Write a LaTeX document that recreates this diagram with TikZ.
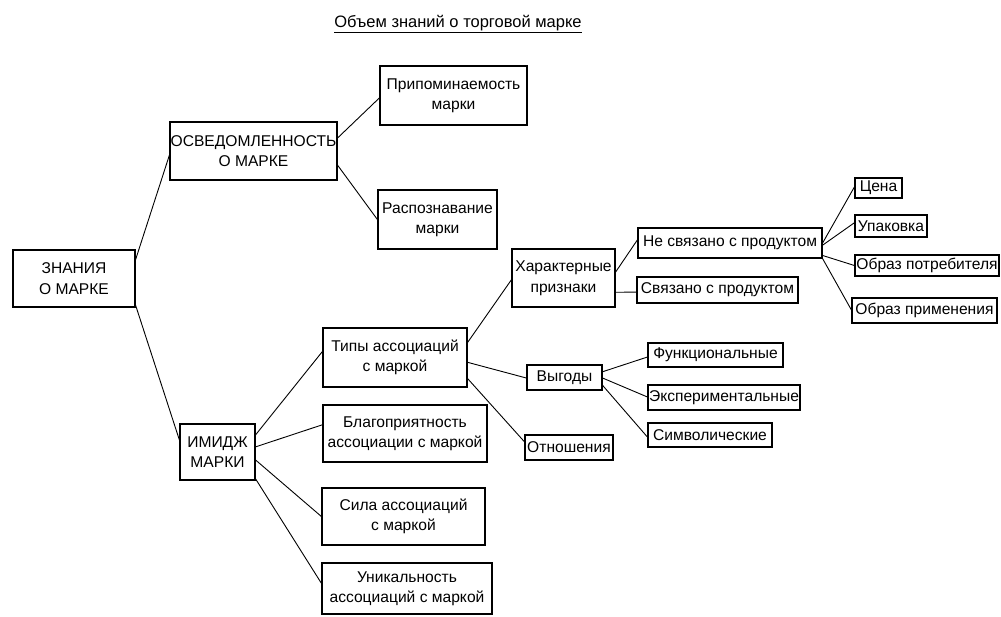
\documentclass[tikz,border=0pt]{standalone}
\usepackage{fontspec}
\setmainfont{Liberation Sans}
\usetikzlibrary{calc}
\newcommand{\Eat}[2]{($(#1.north east)!#2!(#1.south east)$)}
\newcommand{\Wat}[2]{($(#1.north west)!#2!(#1.south west)$)}
\tikzset{
  box/.style={draw, line width=1.2pt, inner sep=0pt, align=center,
    font=\fontsize{15.6}{20.5}\selectfont},
  conn/.style={draw, line width=0.9pt},
  titlestyle/.style={inner sep=0pt, font=\fontsize{16.5}{19}\selectfont}
}
\begin{document}
\begin{tikzpicture}[x=1pt, y=-1pt]
\useasboundingbox (0,0) rectangle (1001,616);
\node[titlestyle] (title) at (458,24) {\underline{Объем знаний о торговой марке}};
\node[box, minimum width=122pt, minimum height=57pt] (root) at (74,278.5) {ЗНАНИЯ\\О МАРКЕ};
\node[box, minimum width=167pt, minimum height=58pt] (osv) at (253.5,151) {ОСВЕДОМЛЕННОСТЬ\\О МАРКЕ};
\node[box, minimum width=147pt, minimum height=59pt] (prip) at (453.5,95.5) {Припоминаемость\\марки};
\node[box, minimum width=119pt, minimum height=59pt] (rasp) at (437.5,219.5) {Распознавание\\марки};
\node[box, minimum width=75pt, minimum height=56pt] (imidzh) at (217.5,452) {ИМИДЖ\\МАРКИ};
\node[box, minimum width=144pt, minimum height=59pt] (tipy) at (395,357.5) {Типы ассоциаций\\с маркой};
\node[box, minimum width=164pt, minimum height=57pt] (blag) at (405,433.5) {Благоприятность\\ассоциации с маркой};
\node[box, minimum width=163pt, minimum height=57pt] (sila) at (403.5,516.5) {Сила ассоциаций\\с маркой};
\node[box, minimum width=170pt, minimum height=51pt] (unik) at (407,588.5) {Уникальность\\ассоциаций с маркой};
\node[box, minimum width=103pt, minimum height=58pt] (har) at (563.5,278) {Характерные\\признаки};
\node[box, minimum width=75pt, minimum height=25pt] (vyg) at (564.5,377.5) {Выгоды};
\node[box, minimum width=88pt, minimum height=25pt] (otn) at (569,447.5) {Отношения};
\node[box, minimum width=184pt, minimum height=30pt] (nesv) at (730,243) {Не связано с продуктом};
\node[box, minimum width=161pt, minimum height=26pt] (sv) at (717.5,290) {Связано с продуктом};
\node[box, minimum width=47pt, minimum height=20pt] (cena) at (878.5,188) {Цена};
\node[box, minimum width=72pt, minimum height=22pt] (upak) at (891,226) {Упаковка};
\node[box, minimum width=144pt, minimum height=21pt] (obrpot) at (927,265.5) {Образ потребителя};
\node[box, minimum width=145pt, minimum height=25pt] (obrpr) at (924.5,310.5) {Образ применения};
\node[box, minimum width=135pt, minimum height=24pt] (func) at (715.5,355) {Функциональные};
\node[box, minimum width=152pt, minimum height=25pt] (eksp) at (724,397.5) {Экспериментальные};
\node[box, minimum width=124pt, minimum height=24pt] (simv) at (710,435) {Символические};
% connectors
\draw[conn] \Eat{root}{0.175} -- \Wat{osv}{0.57};
\draw[conn] \Eat{root}{0.96} -- \Wat{imidzh}{0.29};
\draw[conn] \Eat{osv}{0.28} -- \Wat{prip}{0.54};
\draw[conn] \Eat{osv}{0.74} -- \Wat{rasp}{0.5};
\draw[conn] \Eat{imidzh}{0.2} -- \Wat{tipy}{0.4};
\draw[conn] \Eat{imidzh}{0.41} -- \Wat{blag}{0.35};
\draw[conn] \Eat{imidzh}{0.64} -- \Wat{sila}{0.5};
\draw[conn] \Eat{imidzh}{0.97} -- \Wat{unik}{0.4};
\draw[conn] \Eat{tipy}{0.25} -- \Wat{har}{0.53};
\draw[conn] \Eat{tipy}{0.58} -- \Wat{vyg}{0.52};
\draw[conn] \Eat{tipy}{0.85} -- \Wat{otn}{0.28};
\draw[conn] \Eat{har}{0.4} -- \Wat{nesv}{0.4};
\draw[conn] \Eat{har}{0.74} -- \Wat{sv}{0.58};
\draw[conn] \Eat{nesv}{0.5} -- \Wat{cena}{0.45};
\draw[conn] \Eat{nesv}{0.57} -- \Wat{upak}{0.36};
\draw[conn] \Eat{nesv}{0.9} -- \Wat{obrpot}{0.5};
\draw[conn] \Eat{nesv}{1} -- \Wat{obrpr}{0.48};
\draw[conn] \Eat{vyg}{0.28} -- \Wat{func}{0.58};
\draw[conn] \Eat{vyg}{0.52} -- \Wat{eksp}{0.48};
\draw[conn] \Eat{vyg}{0.8} -- \Wat{simv}{0.58};
\end{tikzpicture}
\end{document}
